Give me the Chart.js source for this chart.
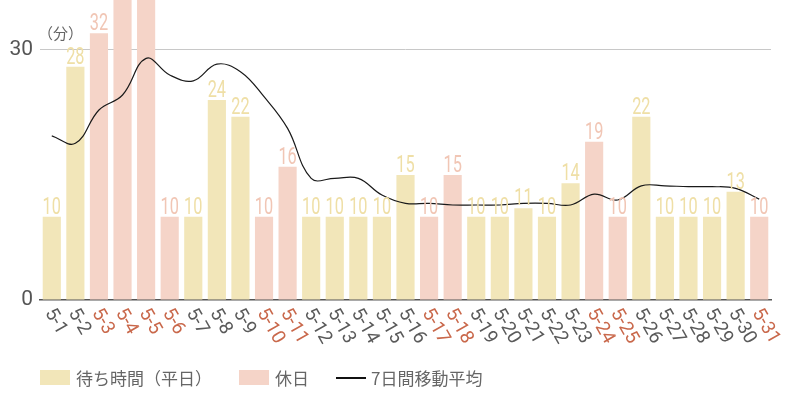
<!DOCTYPE html>
<html>
<head>
<meta charset="utf-8">
<script src="https://cdn.jsdelivr.net/npm/chart.js@4/dist/chart.umd.min.js"></script>
<style>
  html, body { margin: 0; padding: 0; background: #fff; }
  #wrap { position: relative; width: 800px; height: 400px; }
  #chart { position: absolute; left: 0; top: 0; }
  #unit { position: absolute; left: 38px; top: 22px; font: 15px "Noto Sans CJK JP", sans-serif; color: #666; }
  #legend { position: absolute; left: 40px; top: 365px; display: flex; align-items: center;
            font: 17px "Noto Sans CJK JP", sans-serif; color: #666; }
  #legend .item { display: flex; align-items: center; margin-right: 27px; }
  #legend .box { width: 30px; height: 15px; margin-right: 6px; }
  #legend .line { width: 30px; height: 2px; background: #111; margin-right: 5px; }
</style>
</head>
<body>
<div id="wrap">
  <canvas id="chart" width="800" height="400"></canvas>
  <div id="unit">（分）</div>
  <div id="legend"></div>
</div>
<script>
// days of May
const dates = ['5-1','5-2','5-3','5-4','5-5','5-6','5-7','5-8','5-9','5-10','5-11','5-12','5-13','5-14','5-15','5-16',
               '5-17','5-18','5-19','5-20','5-21','5-22','5-23','5-24','5-25','5-26','5-27','5-28','5-29','5-30','5-31'];
// waiting time, weekdays (minutes)
const weekday = [10,28,null,null,null,null,10,24,22,null,null,10,10,10,10,15,
                 null,null,10,10,11,10,14,null,null,22,10,10,10,13,null];
// waiting time, holidays (5-4 / 5-5 run off the top, estimated)
const holiday = [null,null,32,43,52,10,null,null,null,10,16,null,null,null,null,null,
                 10,15,null,null,null,null,null,19,10,null,null,null,null,null,10];
// 7-day moving average
const movingAvg = [19.7,18.8,22.8,24.6,29.0,27.0,26.3,28.3,27.4,24.4,20.6,14.6,14.6,14.6,12.6,11.6,
                   11.6,11.4,11.4,11.4,11.6,11.6,11.4,12.7,12.0,13.7,13.7,13.6,13.6,13.4,12.1];
const yTicks = [0, 30];
const seriesNames = ['待ち時間（平日）', '休日', '7日間移動平均'];

const C = {
  weekday: '#f2e6b9', holiday: '#f5d4c8',
  weekdayText: '#efdfa6', holidayText: '#f1c6b5',
  tick: '#5a5a5a', tickHoliday: '#c9684b', line: '#1a1a1a'
};

// bar value labels (squeezed horizontally, condensed look)
const valueLabels = {
  id: 'valueLabels',
  afterDatasetsDraw(chart) {
    const ctx = chart.ctx;
    ctx.save();
    ctx.font = '24px Roboto, sans-serif';
    ctx.textAlign = 'center';
    ctx.textBaseline = 'alphabetic';
    [0, 1].forEach(di => {
      const ds = chart.data.datasets[di];
      ctx.fillStyle = di === 0 ? C.weekdayText : C.holidayText;
      chart.getDatasetMeta(di).data.forEach((el, i) => {
        if (ds.data[i] == null) return;
        ctx.save();
        ctx.translate(el.x, el.y - 3);
        ctx.scale(0.68, 1);
        ctx.fillText(String(ds.data[i]), 0, 0);
        ctx.restore();
      });
    });
    ctx.restore();
  }
};

// rotated date labels under the axis
const dateLabels = {
  id: 'dateLabels',
  afterDraw(chart) {
    const ctx = chart.ctx, xs = chart.scales.x, bottom = chart.chartArea.bottom;
    ctx.save();
    ctx.font = '19px Roboto, "Noto Sans", sans-serif';
    ctx.textAlign = 'left';
    ctx.textBaseline = 'middle';
    dates.forEach((d, i) => {
      const x = xs.getPixelForValue(i);
      ctx.save();
      ctx.translate(x - 3, bottom + 10);
      ctx.rotate(60 * Math.PI / 180);
      ctx.fillStyle = holiday[i] != null ? C.tickHoliday : C.tick;
      ctx.fillText(d, 0, 0);
      ctx.restore();
    });
    ctx.restore();
  }
};

new Chart(document.getElementById('chart').getContext('2d'), {
  type: 'bar',
  data: {
    labels: dates,
    datasets: [
      { label: seriesNames[0], data: weekday, backgroundColor: C.weekday, grouped: false, order: 1,
        barPercentage: 0.77, categoryPercentage: 1 },
      { label: seriesNames[1], data: holiday, backgroundColor: C.holiday, grouped: false, order: 1,
        barPercentage: 0.77, categoryPercentage: 1 },
      { type: 'line', label: seriesNames[2], data: movingAvg, borderColor: C.line, borderWidth: 1.2,
        pointRadius: 0, tension: 0.4, order: 0 }
    ]
  },
  options: {
    responsive: false,
    animation: false,
    layout: { padding: { top: 0, right: 29, left: 0, bottom: 0 } },
    scales: {
      x: {
        ticks: { display: false },
        grid: { display: false },
        border: { color: '#555', width: 1.5 },
        afterFit(s) { s.height = 100; s.paddingLeft = 0; s.paddingRight = 0; }
      },
      y: {
        min: 0, max: 36,
        afterBuildTicks(s) { s.ticks = yTicks.map(v => ({ value: v })); },
        afterFit(s) { s.width = 40; s.paddingTop = 0; s.paddingBottom = 0; },
        ticks: { color: '#555', font: { size: 21, family: 'Roboto, "Noto Sans", sans-serif' }, padding: 7 },
        grid: {
          drawTicks: false,
          color: ctx => ctx.tick && ctx.tick.value === 0 ? 'rgba(0,0,0,0)' : '#c8c8c8'
        },
        border: { display: false }
      }
    },
    plugins: { legend: { display: false }, tooltip: { enabled: false } }
  },
  plugins: [valueLabels, dateLabels]
});

// legend
const legend = document.getElementById('legend');
[[seriesNames[0], 'box', C.weekday], [seriesNames[1], 'box', C.holiday], [seriesNames[2], 'line', C.line]]
  .forEach(([name, kind, color]) => {
    const item = document.createElement('div');
    item.className = 'item';
    const sw = document.createElement('span');
    sw.className = kind;
    if (kind === 'box') sw.style.background = color;
    const t = document.createElement('span');
    t.textContent = name;
    item.appendChild(sw); item.appendChild(t);
    legend.appendChild(item);
  });
</script>
</body>
</html>
